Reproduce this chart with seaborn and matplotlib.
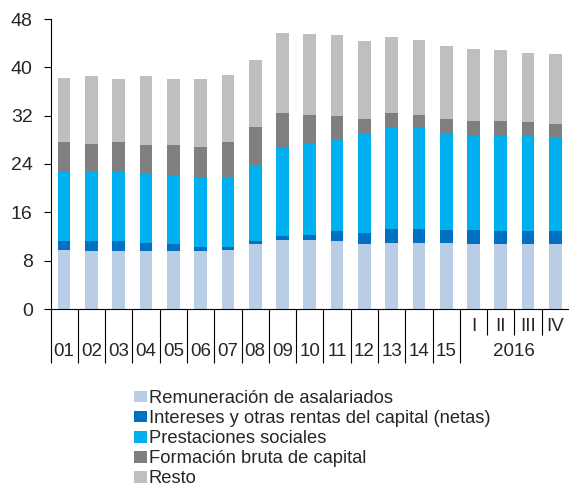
import numpy as np
import pandas as pd
import matplotlib
matplotlib.use("Agg")
import matplotlib.pyplot as plt
import matplotlib.transforms as mtransforms
from matplotlib.patches import Patch
import seaborn as sns

# categories (years 2001-2015, then 2016 quarters)
periodos = ["01", "02", "03", "04", "05", "06", "07", "08", "09", "10",
            "11", "12", "13", "14", "15", "I", "II", "III", "IV"]

# % of GDP
remuneracion = [9.8, 9.6, 9.6, 9.6, 9.6, 9.6, 9.8, 10.7, 11.4, 11.4,
                11.2, 10.7, 10.9, 10.9, 10.9, 10.7, 10.7, 10.7, 10.7]
intereses = [1.4, 1.6, 1.6, 1.3, 1.1, 0.6, 0.4, 0.5, 0.7, 0.9,
             1.7, 1.9, 2.4, 2.4, 2.2, 2.4, 2.2, 2.2, 2.2]
prestaciones = [11.6, 11.6, 11.4, 11.5, 11.4, 11.5, 11.7, 12.6, 14.6, 15.1,
                15.2, 16.4, 16.7, 16.7, 15.9, 15.7, 15.9, 15.7, 15.5]
formacion = [4.8, 4.5, 5.0, 4.8, 5.1, 5.1, 5.7, 6.3, 5.7, 4.7,
             3.8, 2.5, 2.4, 2.1, 2.5, 2.3, 2.3, 2.4, 2.3]
resto = [10.7, 11.25, 10.5, 11.35, 10.9, 11.3, 11.2, 11.1, 13.3, 13.4,
         13.4, 12.8, 12.6, 12.4, 12.1, 12.0, 11.8, 11.4, 11.5]

series = ["Remuneración de asalariados",
          "Intereses y otras rentas del capital (netas)",
          "Prestaciones sociales",
          "Formación bruta de capital",
          "Resto"]
colores = ["#B9CDE5", "#0070C0", "#00B0F0", "#7F7F7F", "#BFBFBF"]

df = pd.DataFrame({series[0]: remuneracion, series[1]: intereses,
                   series[2]: prestaciones, series[3]: formacion,
                   series[4]: resto}, index=periodos)
acum = df.cumsum(axis=1)

sns.set_theme(style="white")
plt.rcParams["font.family"] = ["Liberation Sans", "DejaVu Sans"]

fig = plt.figure(figsize=(5.69, 4.87), dpi=100)
ax = fig.add_axes([50.5 / 569, (487 - 309) / 487, 518.5 / 569, 290 / 487])

# stacked bars: draw cumulative totals from the top layer down
for s, c in zip(series[::-1], colores[::-1]):
    sns.barplot(x=periodos, y=acum[s].values, order=periodos, color=c,
                saturation=1, width=0.465, linewidth=0, ax=ax)

ax.set_ylim(0, 48)
ax.set_xlim(-0.5, len(periodos) - 0.5)
ax.set_yticks(np.arange(0, 49, 8))
ax.tick_params(axis="y", direction="out", length=4.8, width=0.8,
               color="black", labelsize=14, pad=8, left=True)

for side in ["top", "right"]:
    ax.spines[side].set_visible(False)
for side in ["left", "bottom"]:
    ax.spines[side].set_color("black")
    ax.spines[side].set_linewidth(0.8)

# separators below the axis: long between years, short between quarters
ax.set_xticks(np.arange(-0.5, 15, 1.0))
ax.set_xticks([15.5, 16.5, 17.5], minor=True)
ax.set_xticklabels([])
ax.tick_params(axis="x", which="major", direction="out", length=39,
               width=0.8, color="black", bottom=True)
ax.tick_params(axis="x", which="minor", direction="out", length=18.5,
               width=0.8, color="black", bottom=True)
ax.set_xlabel("")

trans = mtransforms.blended_transform_factory(ax.transData, ax.transAxes)
for i, p in enumerate(periodos):
    if i < 15:
        ax.text(i, -0.148, p, transform=trans, ha="center", va="center",
                fontsize=13.5)
    else:
        ax.text(i, -0.059, p, transform=trans, ha="center", va="center",
                fontsize=13.5)
ax.text(16.5, -0.148, "2016", transform=trans, ha="center", va="center",
        fontsize=13.5)

handles = [Patch(facecolor=c, edgecolor="none") for c in colores]
fig.legend(handles, series, loc="upper left",
           bbox_to_anchor=(134 / 569, (487 - 390) / 487),
           frameon=False, fontsize=13.2, borderpad=0, borderaxespad=0,
           handlelength=0.7, handleheight=0.6, handletextpad=0.1,
           labelspacing=0.17)

fig.savefig("out.png", dpi=100)
